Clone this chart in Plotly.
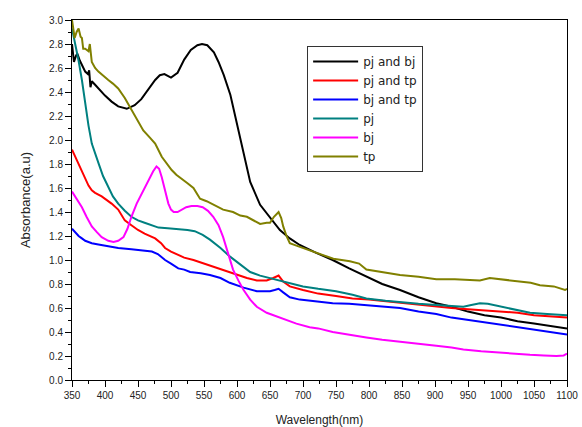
import plotly.graph_objects as go

# ---- data ----
pjbj_x = [350, 353, 356, 358, 362, 366, 370, 374, 376, 378, 380, 385, 390, 400, 410, 420, 433, 445, 455, 465,
          476, 483, 490, 500, 510, 520, 530, 540, 547, 555, 565, 572, 580, 590, 600, 610, 620, 635, 650, 665,
          680, 695, 720, 745, 770, 796, 820, 847, 875, 902, 925, 950, 975, 1000, 1025, 1050, 1075, 1100]
pjbj_y = [2.80, 2.65, 2.70, 2.72, 2.66, 2.62, 2.57, 2.55, 2.58, 2.44, 2.49, 2.46, 2.43, 2.37, 2.32, 2.28, 2.26, 2.29, 2.34, 2.42,
          2.50, 2.54, 2.55, 2.52, 2.56, 2.67, 2.75, 2.79, 2.80, 2.79, 2.73, 2.65, 2.54, 2.375, 2.125, 1.875, 1.65, 1.46, 1.35, 1.25,
          1.18, 1.125, 1.06, 1.0, 0.93, 0.86, 0.80, 0.75, 0.69, 0.64, 0.61, 0.57, 0.54, 0.52, 0.49, 0.47, 0.45, 0.43]

pjtp_x = [350, 355, 360, 365, 370, 375, 380, 385, 395, 410, 420, 430, 440, 450, 460, 476, 485, 491, 500, 511,
          520, 534, 550, 565, 579, 600, 615, 630, 645, 655, 663, 670, 680, 700, 723, 750, 775, 800, 825, 850,
          875, 900, 925, 950, 975, 1000, 1025, 1050, 1075, 1100]
pjtp_y = [1.92, 1.86, 1.81, 1.74, 1.68, 1.62, 1.58, 1.56, 1.53, 1.47, 1.42, 1.33, 1.29, 1.25, 1.22, 1.18, 1.14, 1.10, 1.07, 1.04,
          1.02, 1.00, 0.97, 0.94, 0.92, 0.88, 0.85, 0.83, 0.83, 0.85, 0.87, 0.82, 0.78, 0.75, 0.72, 0.70, 0.68, 0.67, 0.655, 0.64,
          0.625, 0.61, 0.60, 0.59, 0.58, 0.57, 0.56, 0.54, 0.53, 0.52]

bjtp_x = [350, 355, 360, 365, 370, 375, 380, 390, 400, 420, 440, 455, 471, 480, 491, 500, 511, 520, 529, 545,
          559, 575, 589, 610, 630, 640, 650, 657, 663, 670, 680, 695, 723, 745, 770, 796, 820, 847, 875, 902,
          925, 950, 975, 1000, 1025, 1050, 1075, 1100]
bjtp_y = [1.26, 1.23, 1.20, 1.18, 1.16, 1.15, 1.14, 1.13, 1.12, 1.10, 1.09, 1.08, 1.07, 1.05, 1.00, 0.97, 0.93, 0.92, 0.90, 0.89,
          0.875, 0.85, 0.81, 0.77, 0.74, 0.74, 0.74, 0.75, 0.76, 0.73, 0.69, 0.67, 0.65, 0.64, 0.635, 0.625, 0.61, 0.60, 0.57, 0.55,
          0.52, 0.50, 0.48, 0.46, 0.44, 0.42, 0.40, 0.38]

pj_x = [350, 355, 360, 365, 370, 375, 380, 385, 390, 397, 405, 412, 420, 430, 440, 450, 460, 470, 481, 495,
        511, 525, 536, 548, 559, 575, 589, 605, 620, 635, 650, 665, 680, 700, 723, 750, 775, 796, 825, 850,
        875, 902, 925, 943, 955, 968, 980, 1003, 1025, 1044, 1070, 1100]
pj_y = [2.93, 2.80, 2.66, 2.50, 2.30, 2.12, 1.97, 1.88, 1.81, 1.70, 1.61, 1.53, 1.47, 1.41, 1.36, 1.33, 1.31, 1.29, 1.27, 1.265,
        1.26, 1.25, 1.24, 1.21, 1.17, 1.10, 1.03, 0.96, 0.90, 0.87, 0.85, 0.83, 0.81, 0.78, 0.76, 0.74, 0.71, 0.68, 0.66, 0.645,
        0.635, 0.625, 0.615, 0.61, 0.625, 0.64, 0.635, 0.61, 0.585, 0.56, 0.55, 0.54]

bj_x = [350, 358, 365, 372, 380, 388, 395, 405, 413, 420, 428, 434, 440, 448, 456, 462, 468, 473, 478, 482,
        486, 491, 496, 500, 504, 510, 516, 523, 531, 540, 548, 556, 564, 572, 579, 587, 594, 602, 610, 620,
        630, 645, 660, 675, 690, 710, 723, 745, 770, 796, 820, 847, 875, 902, 925, 943, 970, 993, 1020, 1044,
        1065, 1084, 1095, 1100]
bj_y = [1.57, 1.50, 1.44, 1.36, 1.28, 1.23, 1.19, 1.16, 1.15, 1.16, 1.19, 1.26, 1.36, 1.47, 1.56, 1.63, 1.69, 1.74, 1.78, 1.76,
        1.69, 1.58, 1.47, 1.42, 1.40, 1.40, 1.42, 1.44, 1.45, 1.45, 1.44, 1.41, 1.36, 1.29, 1.19, 1.05, 0.92, 0.83, 0.75, 0.67,
        0.61, 0.56, 0.53, 0.50, 0.47, 0.44, 0.43, 0.40, 0.375, 0.355, 0.335, 0.32, 0.30, 0.285, 0.27, 0.255, 0.24, 0.23, 0.22, 0.21,
        0.205, 0.20, 0.205, 0.22]

tp_x = [350, 352, 354, 357, 360, 363, 365, 367, 370, 375, 377, 380, 385, 390, 398, 405, 412, 420, 430, 440,
        448, 458, 468, 476, 486, 494, 501, 508, 516, 525, 534, 544, 554, 564, 579, 594, 605, 615, 625, 635,
        645, 650, 656, 663, 667, 670, 675, 680, 690, 700, 723, 746, 771, 785, 796, 820, 847, 875, 902, 930,
        968, 983, 1000, 1029, 1045, 1059, 1080, 1097, 1100]
tp_y = [3.0, 2.93, 2.85, 2.90, 2.93, 2.86, 2.85, 2.76, 2.76, 2.74, 2.80, 2.65, 2.60, 2.57, 2.53, 2.50, 2.47, 2.43, 2.35, 2.25,
        2.18, 2.08, 2.02, 1.97, 1.86, 1.80, 1.75, 1.71, 1.68, 1.64, 1.60, 1.51, 1.49, 1.46, 1.42, 1.40, 1.37, 1.36, 1.33, 1.30,
        1.31, 1.31, 1.36, 1.40, 1.35, 1.28, 1.20, 1.14, 1.12, 1.10, 1.06, 1.01, 0.99, 0.97, 0.92, 0.90, 0.875, 0.86, 0.84, 0.84,
        0.83, 0.85, 0.84, 0.825, 0.81, 0.79, 0.78, 0.75, 0.76]

series = [
    ("pj and bj", pjbj_x, pjbj_y, "#000000"),
    ("pj and tp", pjtp_x, pjtp_y, "#ff0000"),
    ("bj and tp", bjtp_x, bjtp_y, "#0000ff"),
    ("pj", pj_x, pj_y, "#008080"),
    ("bj", bj_x, bj_y, "#ff00ff"),
    ("tp", tp_x, tp_y, "#808000"),
]

fig = go.Figure()
for name, xs, ys, col in series:
    fig.add_trace(go.Scatter(x=xs, y=ys, mode="lines", name=name,
                             line=dict(color=col, width=2)))

axis_common = dict(
    showline=True, linecolor="black", linewidth=1, mirror=True,
    ticks="outside", ticklen=6, tickcolor="black", tickwidth=1,
    showgrid=False, zeroline=False, automargin=False,
    tickfont=dict(family="Liberation Sans", size=10, color="#222222"),
)

fig.update_xaxes(range=[350, 1100], dtick=50, tick0=350,
                 minor=dict(dtick=25, ticklen=3, ticks="outside", tickcolor="black"),
                 title=dict(text="Wavelength(nm)", font=dict(family="Liberation Sans", size=12, color="#222222")),
                 **axis_common)
fig.update_yaxes(range=[0, 3.0], dtick=0.2, tick0=0, tickformat=".1f",
                 minor=dict(dtick=0.1, ticklen=3, ticks="outside", tickcolor="black"),
                 title=dict(text="Absorbance(a.u)", font=dict(family="Liberation Sans", size=13, color="#222222")),
                 **axis_common)

fig.update_layout(
    width=582, height=427,
    margin=dict(l=72, r=15, t=20, b=47, autoexpand=False),
    paper_bgcolor="white", plot_bgcolor="white",
    showlegend=True,
    legend=dict(x=0.475, y=0.928, xanchor="left", yanchor="top",
                bgcolor="white", bordercolor="#333333", borderwidth=1,
                font=dict(family="DejaVu Sans", size=12, color="#222222"),
                tracegroupgap=0, itemwidth=45),
)

fig.write_html("out.html", config={"displayModeBar": False},
               post_script="document.body.style.margin='0px';document.body.style.overflow='hidden';")
